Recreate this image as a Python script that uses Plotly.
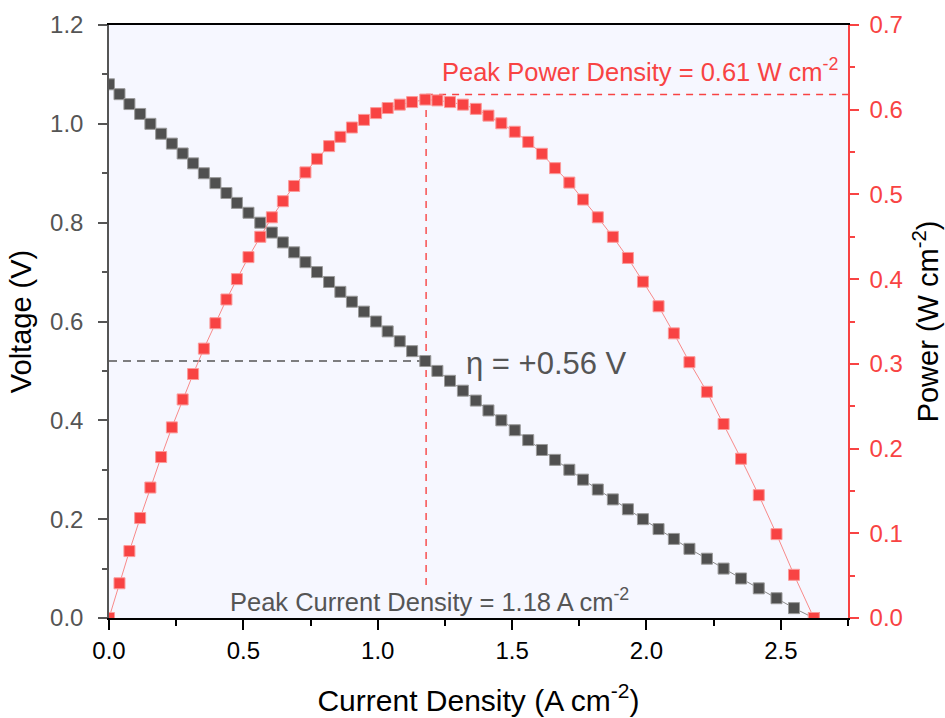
import plotly.graph_objects as go

# Polarization data: cell voltage stepped down in 0.02 V increments
current_density = [
    0.000, 0.039, 0.076, 0.116, 0.154, 0.194, 0.234, 0.274, 0.313, 0.353,
    0.396, 0.437, 0.476, 0.519, 0.563, 0.606, 0.647, 0.689, 0.731, 0.774,
    0.819, 0.861, 0.904, 0.949, 0.994, 1.037, 1.082, 1.128, 1.177, 1.222,
    1.269, 1.317, 1.365, 1.412, 1.460, 1.510, 1.560, 1.611, 1.660, 1.713,
    1.764, 1.819, 1.875, 1.931, 1.987, 2.045, 2.102, 2.160, 2.225, 2.287,
    2.352, 2.418, 2.484, 2.549, 2.623,
]
voltage = [
    1.08, 1.06, 1.04, 1.02, 1.00, 0.98, 0.96, 0.94, 0.92, 0.90,
    0.88, 0.86, 0.84, 0.82, 0.80, 0.78, 0.76, 0.74, 0.72, 0.70,
    0.68, 0.66, 0.64, 0.62, 0.60, 0.58, 0.56, 0.54, 0.52, 0.50,
    0.48, 0.46, 0.44, 0.42, 0.40, 0.38, 0.36, 0.34, 0.32, 0.30,
    0.28, 0.26, 0.24, 0.22, 0.20, 0.18, 0.16, 0.14, 0.12, 0.10,
    0.08, 0.06, 0.04, 0.02, 0.00,
]
power_density = [
    0.000, 0.041, 0.079, 0.118, 0.154, 0.190, 0.225, 0.258, 0.288, 0.318,
    0.348, 0.376, 0.400, 0.426, 0.450, 0.473, 0.492, 0.510, 0.526, 0.542,
    0.557, 0.568, 0.579, 0.588, 0.596, 0.602, 0.606, 0.609, 0.612, 0.611,
    0.609, 0.606, 0.601, 0.593, 0.584, 0.574, 0.562, 0.548, 0.531, 0.514,
    0.494, 0.473, 0.450, 0.425, 0.397, 0.368, 0.336, 0.302, 0.267, 0.229,
    0.188, 0.145, 0.099, 0.051, 0.000,
]

peak_current = 1.18
peak_voltage = 0.52
peak_power = 0.61
peak_power_line = 0.618
overpotential = 0.56

FONT = "Liberation Sans, Arial, sans-serif"
GRAY = "#555555"
RED = "#F84343"
BLACK = "#000000"

fig = go.Figure()

fig.add_trace(go.Scatter(
    x=current_density, y=voltage, mode="lines+markers", name="Voltage",
    line=dict(color="#8a8a8a", width=1),
    marker=dict(symbol="square", size=11, color="#505050",
                line=dict(color="#9a9a9a", width=1)),
    yaxis="y",
))
fig.add_trace(go.Scatter(
    x=current_density, y=power_density, mode="lines+markers", name="Power",
    line=dict(color="#F88A8A", width=1),
    marker=dict(symbol="square", size=11, color=RED,
                line=dict(color="#FB9A9A", width=1)),
    yaxis="y2",
))

# Guide lines at the peak power point
fig.add_shape(type="line", xref="x", yref="y2", layer="below",
              x0=peak_current, x1=peak_current, y0=0.039, y1=peak_power_line,
              line=dict(color=RED, width=1.4, dash="7px,6px"))
fig.add_shape(type="line", xref="x", yref="y2", layer="below",
              x0=peak_current, x1=2.75, y0=peak_power_line, y1=peak_power_line,
              line=dict(color=RED, width=1.4, dash="7px,6px"))
fig.add_shape(type="line", xref="x", yref="y", layer="below",
              x0=0, x1=peak_current, y0=peak_voltage, y1=peak_voltage,
              line=dict(color=GRAY, width=1.4, dash="8px,6px"))

fig.add_annotation(
    x=2.72, y=0.647, xref="x", yref="y2", xanchor="right", yanchor="middle",
    text=f"Peak Power Density = {peak_power:.2f} W cm<sup>-2</sup>",
    showarrow=False, font=dict(family=FONT, size=25.5, color=RED),
)
fig.add_annotation(
    x=1.32, y=0.516, xref="x", yref="y", xanchor="left", yanchor="middle",
    text=f"η = +{overpotential:.2f} V",
    showarrow=False, font=dict(family=FONT, size=31, color=GRAY),
)
fig.add_annotation(
    x=0.444, y=0.036, xref="x", yref="y", xanchor="left", yanchor="middle",
    text=f"Peak Current Density = {peak_current:.2f} A cm<sup>-2</sup>",
    showarrow=False, font=dict(family=FONT, size=25.5, color=GRAY),
)

fig.update_layout(
    width=945, height=718,
    margin=dict(l=109, r=97, t=25, b=100),
    paper_bgcolor="white",
    plot_bgcolor="#F6F7FF",
    showlegend=False,
    font=dict(family=FONT, color=BLACK),
    xaxis=dict(
        range=[0, 2.75], tick0=0, dtick=0.5, tickformat=".1f",
        showgrid=False, zeroline=False, automargin=False,
        showline=True, linecolor=BLACK, linewidth=1.5, mirror=True,
        ticks="outside", ticklen=10, tickwidth=1.5, tickcolor=BLACK,
        minor=dict(dtick=0.25, ticks="outside", ticklen=6, tickwidth=1.5,
                   tickcolor=BLACK, showgrid=False),
        tickfont=dict(size=24, color=BLACK),
        title=dict(text="Current Density (A cm<sup>-2</sup>)",
                   font=dict(size=30, color=BLACK), standoff=27),
    ),
    yaxis=dict(
        range=[0, 1.2], tick0=0, dtick=0.2, tickformat=".1f",
        showgrid=False, zeroline=False, automargin=False,
        showline=True, linecolor=GRAY, linewidth=1.5,
        ticks="outside", ticklen=9, tickwidth=1.5, tickcolor=GRAY,
        minor=dict(dtick=0.1, ticks="outside", ticklen=5, tickwidth=1.5,
                   tickcolor=GRAY, showgrid=False),
        tickfont=dict(size=24, color=GRAY), ticklabelstandoff=10,
        title=dict(text="Voltage (V)", font=dict(size=29, color=BLACK),
                   standoff=10),
    ),
    yaxis2=dict(
        overlaying="y", side="right",
        range=[0, 0.7], tick0=0, dtick=0.1, tickformat=".1f",
        showgrid=False, zeroline=False, automargin=False,
        showline=True, linecolor=RED, linewidth=1.5,
        ticks="outside", ticklen=9, tickwidth=1.5, tickcolor=RED,
        minor=dict(dtick=0.05, ticks="outside", ticklen=5, tickwidth=1.5,
                   tickcolor=RED, showgrid=False),
        tickfont=dict(size=24, color=RED), ticklabelstandoff=6,
        title=dict(text="Power (W cm<sup>-2</sup>)", font=dict(size=29, color=BLACK),
                   standoff=16),
    ),
)

fig.write_html("out.html")
